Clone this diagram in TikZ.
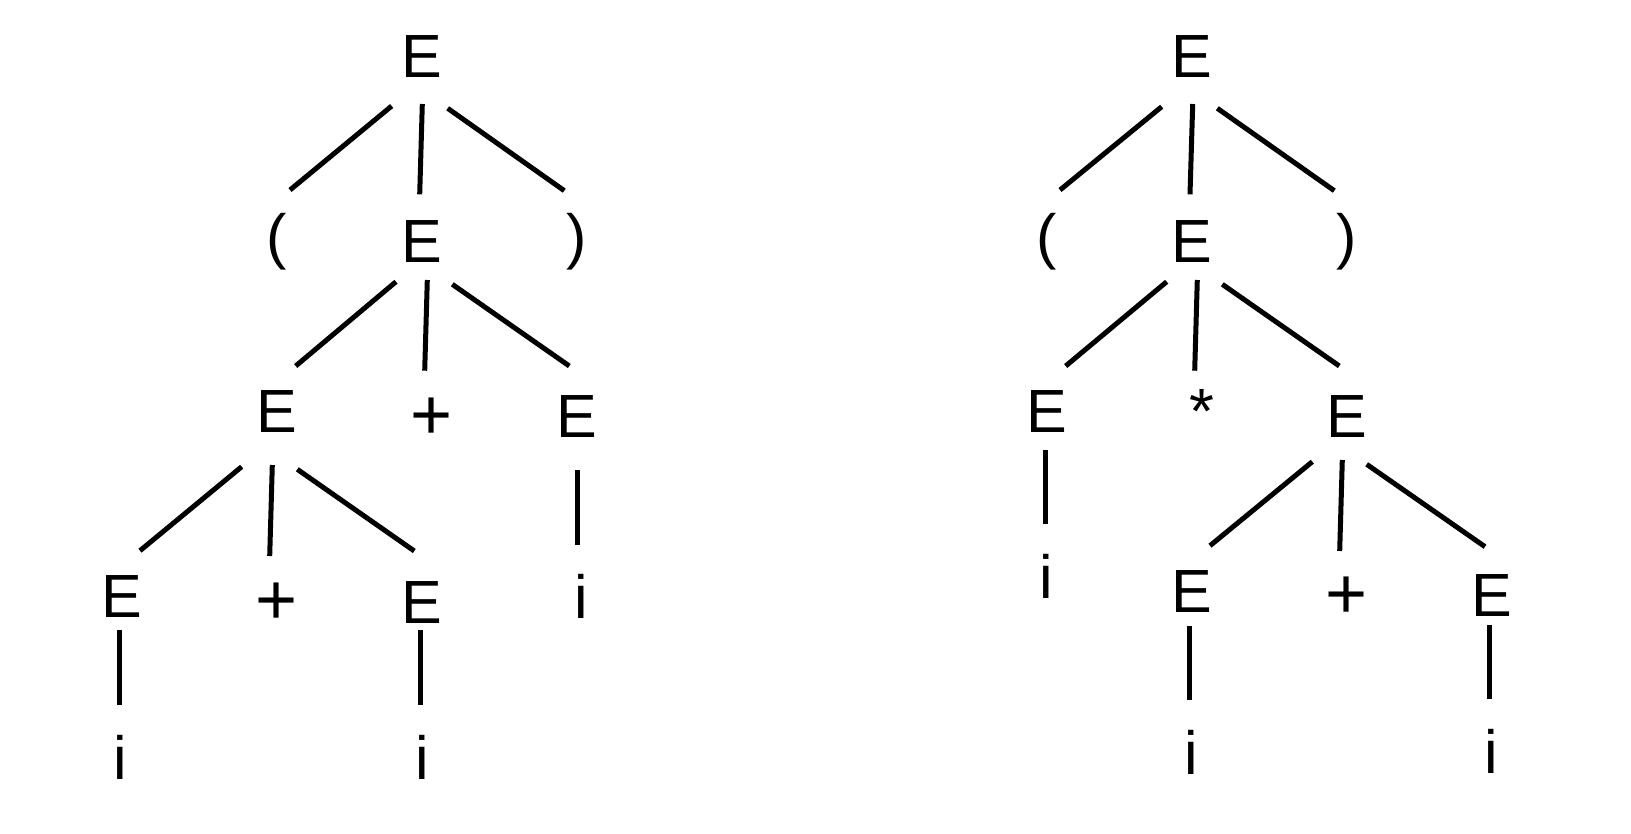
\documentclass[tikz,border=0pt]{standalone}
\usepackage{fontspec}
\setmainfont{Liberation Sans}
\begin{document}
\begin{tikzpicture}[x=1pt,y=-1pt,
  lab/.style={anchor=base,inner sep=0pt,outer sep=0pt,font=\fontsize{61}{70}\selectfont},
  plab/.style={anchor=base,inner sep=0pt,outer sep=0pt,font=\fontsize{72}{80}\selectfont},
  slab/.style={anchor=base,inner sep=0pt,outer sep=0pt,font=\fontsize{64}{72}\selectfont},
  edge/.style={line width=5pt,line cap=butt,black}]
\useasboundingbox (0,0) rectangle (1631,833);
% ---------- left tree ----------
\node[lab] (la1) at (422,77.3) {E};
\node[lab] (la2) at (276.7,257) {(};
\node[lab] (la3) at (422,262.5) {E};
\node[lab] (la4) at (577,257) {)};
\node[lab] (la5) at (277,432.5) {E};
\node[plab] (la6) at (431.3,439.1) {+};
\node[lab] (la7) at (577,437.3) {E};
\node[lab] (la8) at (122,617.3) {E};
\node[plab] (la9) at (276.7,624.4) {+};
\node[lab] (la10) at (422,623.3) {E};
\node[lab] (la11) at (581,618.3) {i};
\node[lab] (la12) at (120.7,779) {i};
\node[lab] (la13) at (422,779) {i};
% ---------- right tree ----------
\node[lab] (ra1) at (1192,77.3) {E};
\node[lab] (ra2) at (1046.7,257) {(};
\node[lab] (ra3) at (1192,262.5) {E};
\node[lab] (ra4) at (1347,257) {)};
\node[lab] (ra5) at (1046.7,432.7) {E};
\node[slab] (ra6) at (1201.5,433.8) {*};
\node[lab] (ra7) at (1347,437.3) {E};
\node[lab] (ra8) at (1046.4,598.7) {i};
\node[lab] (ra9) at (1192,612.7) {E};
\node[plab] (ra10) at (1346.3,618.4) {+};
\node[lab] (ra11) at (1492,616.7) {E};
\node[lab] (ra12) at (1191,774) {i};
\node[lab] (ra13) at (1491.7,773.3) {i};
% ---------- connector end points, left ----------
\coordinate (l1a) at (391.7,106);   \coordinate (l1b) at (290,190);
\coordinate (l2a) at (422.3,104);   \coordinate (l2b) at (419.7,194.3);
\coordinate (l3a) at (447.7,108.3); \coordinate (l3b) at (564.3,190.7);
\coordinate (l4a) at (396,281.7);   \coordinate (l4b) at (295.7,366);
\coordinate (l5a) at (427.3,280);   \coordinate (l5b) at (424.7,370.7);
\coordinate (l6a) at (452.3,284.3); \coordinate (l6b) at (569.3,366);
\coordinate (l7a) at (241.7,466.7); \coordinate (l7b) at (140,550.7);
\coordinate (l8a) at (272.3,465);   \coordinate (l8b) at (269.7,556);
\coordinate (l9a) at (297.3,469.3); \coordinate (l9b) at (414.3,551);
\coordinate (l10a) at (577.3,470);  \coordinate (l10b) at (577.3,545);
\coordinate (l11a) at (119.7,630);  \coordinate (l11b) at (119.7,705);
\coordinate (l12a) at (420,630);    \coordinate (l12b) at (420,705);
% ---------- connector end points, right ----------
\coordinate (r1a) at (1161.7,106.7); \coordinate (r1b) at (1060,190);
\coordinate (r2a) at (1192.7,104);   \coordinate (r2b) at (1190,194.3);
\coordinate (r3a) at (1217.3,108.3); \coordinate (r3b) at (1334.3,190.7);
\coordinate (r4a) at (1166.7,281.7); \coordinate (r4b) at (1065.7,366);
\coordinate (r5a) at (1197.3,280);   \coordinate (r5b) at (1194.7,370.7);
\coordinate (r6a) at (1222.3,284.3); \coordinate (r6b) at (1339.3,366);
\coordinate (r7a) at (1045,450);     \coordinate (r7b) at (1045,524.3);
\coordinate (r8a) at (1312.3,461.7); \coordinate (r8b) at (1210,545.7);
\coordinate (r9a) at (1342.3,460);   \coordinate (r9b) at (1339.7,551);
\coordinate (r10a) at (1366.7,464.3); \coordinate (r10b) at (1485,546.7);
\coordinate (r11a) at (1189.7,625.7); \coordinate (r11b) at (1189.7,700);
\coordinate (r12a) at (1489.7,625);   \coordinate (r12b) at (1489.7,699.3);
% ---------- connectors ----------
\foreach \n in {1,...,12} {
  \draw[edge] (l\n a) -- (l\n b);
  \draw[edge] (r\n a) -- (r\n b);
}
\end{tikzpicture}
\end{document}
